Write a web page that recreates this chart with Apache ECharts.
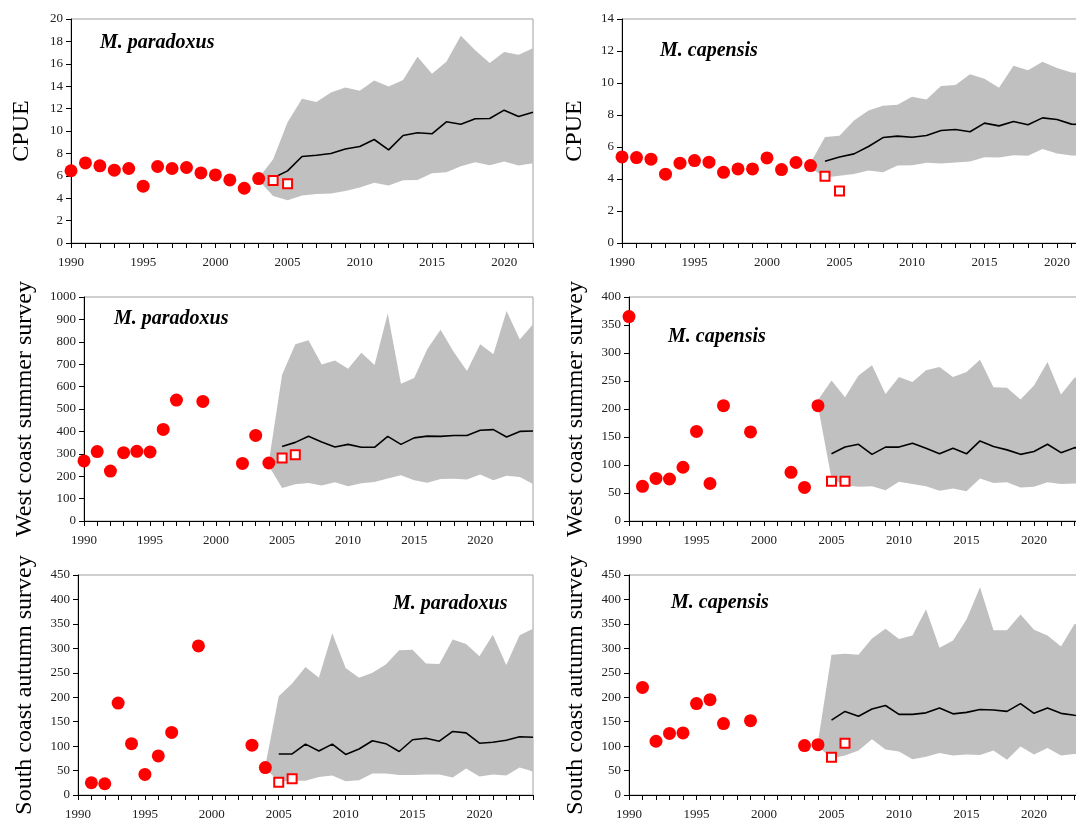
<!DOCTYPE html>
<html>
<head>
<meta charset="utf-8">
<script src="https://cdn.jsdelivr.net/npm/echarts@6/dist/echarts.min.js"></script>
<style>
  html, body { margin: 0; padding: 0; background: #fff; overflow: hidden; }
  /* the original figure is cut off at the right edge, so the canvas is wider than the window */
  #main { width: 1100px; height: 821px; }
</style>
</head>
<body>
<div id="main"></div>
<script>
// ---- CPUE, M. paradoxus ----
var cpueParYears = [1990,1991,1992,1993,1994,1995,1996,1997,1998,1999,2000,2001,2002,2003];
var cpuePar = [6.45,7.15,6.89,6.5,6.65,5.07,6.83,6.65,6.74,6.26,6.08,5.63,4.89,5.75];
var cpueParOpenYears = [2004,2005];
var cpueParOpen = [5.57,5.3];
var cpueParLineYears = [2004,2005,2006,2007,2008,2009,2010,2011,2012,2013,2014,2015,2016,2017,2018,2019,2020,2021,2022];
var cpueParLine = [5.8,6.44,7.72,7.84,7.99,8.4,8.61,9.24,8.32,9.6,9.84,9.75,10.82,10.61,11.09,11.12,11.86,11.3,11.68];
var cpueParBandYears = [2003,2004,2005,2006,2007,2008,2009,2010,2011,2012,2013,2014,2015,2016,2017,2018,2019,2020,2021,2022];
var cpueParHi = [5.8,7.48,10.79,12.88,12.58,13.44,13.89,13.59,14.52,13.98,14.55,16.63,15.11,16.18,18.51,17.2,16.07,17.05,16.81,17.38];
var cpueParLo = [5.6,4.2,3.82,4.23,4.38,4.41,4.65,4.95,5.39,5.13,5.6,5.63,6.23,6.32,6.86,7.21,6.94,7.27,6.91,7.12];

// ---- CPUE, M. capensis ----
var cpueCapYears = [1990,1991,1992,1993,1994,1995,1996,1997,1998,1999,2000,2001,2002,2003];
var cpueCap = [5.38,5.34,5.24,4.3,4.99,5.15,5.05,4.42,4.63,4.63,5.32,4.59,5.03,4.84];
var cpueCapOpenYears = [2004,2005];
var cpueCapOpen = [4.17,3.25];
var cpueCapLineYears = [2004,2005,2006,2007,2008,2009,2010,2011,2012,2013,2014,2015,2016,2017,2018,2019,2020,2021,2022];
var cpueCapLine = [5.11,5.38,5.57,6.03,6.59,6.68,6.61,6.72,7.03,7.09,6.95,7.49,7.32,7.59,7.39,7.82,7.72,7.43,7.4];
var cpueCapBandYears = [2003,2004,2005,2006,2007,2008,2009,2010,2011,2012,2013,2014,2015,2016,2017,2018,2019,2020,2021,2022];
var cpueCapHi = [5.0,6.63,6.7,7.66,8.28,8.58,8.64,9.14,8.97,9.81,9.87,10.54,10.26,9.7,11.08,10.79,11.33,10.93,10.66,10.6];
var cpueCapLo = [4.7,4.09,4.21,4.32,4.53,4.42,4.84,4.86,5.01,4.97,5.03,5.09,5.36,5.34,5.49,5.45,5.88,5.59,5.47,5.45];

// ---- West coast summer survey, M. paradoxus ----
var wcParYears = [1990,1991,1992,1993,1994,1995,1996,1997,1999,2002,2003,2004];
var wcPar = [268,310,223,305,311,308,409,540,534,257,382,259];
var wcParOpenYears = [2005,2006];
var wcParOpen = [281,296];
var wcParLineYears = [2005,2006,2007,2008,2009,2010,2011,2012,2013,2014,2015,2016,2017,2018,2019,2020,2021,2022,2023,2024];
var wcParLine = [333,351,378,353,330,342,329,329,378,342,371,379,378,382,382,405,408,375,400,402];
var wcParBandYears = [2004,2005,2006,2007,2008,2009,2010,2011,2012,2013,2014,2015,2016,2017,2018,2019,2020,2021,2022,2023,2024];
var wcParHi = [265,653,789,807,699,717,680,751,696,926,613,638,768,854,754,670,789,744,938,810,878];
var wcParLo = [245,147,164,170,158,173,155,168,174,190,204,182,171,188,189,185,208,182,202,196,165];

// ---- West coast summer survey, M. capensis ----
var wcCapYears = [1990,1991,1992,1993,1994,1995,1996,1997,1999,2002,2003,2004];
var wcCap = [365,62,76,75,96,160,67,206,159,87,60,206];
var wcCapOpenYears = [2005,2006];
var wcCapOpen = [71,71];
var wcCapLineYears = [2005,2006,2007,2008,2009,2010,2011,2012,2013,2014,2015,2016,2017,2018,2019,2020,2021,2022,2023,2024];
var wcCapLine = [120,132,137,119,132,132,139,130,120,130,120,143,133,127,119,124,137,122,131,130];
var wcCapBandYears = [2004,2005,2006,2007,2008,2009,2010,2011,2012,2013,2014,2015,2016,2017,2018,2019,2020,2021,2022,2023,2024];
var wcCapHi = [216,251,221,260,278,227,257,248,269,275,257,266,288,239,238,217,242,284,226,256,260];
var wcCapLo = [205,76,64,61,62,55,70,66,62,54,58,53,76,68,69,60,61,69,66,67,67];

// ---- South coast autumn survey, M. paradoxus ----
var scParYears = [1991,1992,1993,1994,1995,1996,1997,1999,2003,2004];
var scPar = [25,23,188,105,42,80,128,305,102,56];
var scParOpenYears = [2005,2006];
var scParOpen = [26,33];
var scParLineYears = [2005,2006,2007,2008,2009,2010,2011,2012,2013,2014,2015,2016,2017,2018,2019,2020,2021,2022,2023,2024];
var scParLine = [84,84,104,90,104,83,94,111,105,89,113,116,110,130,127,106,108,112,119,118];
var scParBandYears = [2004,2005,2006,2007,2008,2009,2010,2011,2012,2013,2014,2015,2016,2017,2018,2019,2020,2021,2022,2023,2024];
var scParHi = [60,202,228,262,240,331,260,240,250,267,296,297,269,268,318,309,284,328,266,327,340];
var scParLo = [54,28,29,29,37,40,28,30,44,44,41,41,42,42,36,54,38,42,40,56,48];

// ---- South coast autumn survey, M. capensis ----
var scCapYears = [1991,1992,1993,1994,1995,1996,1997,1999,2003,2004];
var scCap = [220,110,126,127,187,195,146,152,101,103];
var scCapOpenYears = [2005,2006];
var scCapOpen = [77,106];
var scCapLineYears = [2005,2006,2007,2008,2009,2010,2011,2012,2013,2014,2015,2016,2017,2018,2019,2020,2021,2022,2023,2024];
var scCapLine = [153,171,161,176,183,165,165,168,178,166,169,175,174,171,187,167,178,167,163,160];
var scCapBandYears = [2004,2005,2006,2007,2008,2009,2010,2011,2012,2013,2014,2015,2016,2017,2018,2019,2020,2021,2022,2023,2024];
var scCapHi = [109,287,289,287,320,340,319,326,380,301,316,359,425,337,337,369,338,326,304,350,345];
var scCapLo = [99,75,81,91,114,93,89,73,78,86,81,83,82,91,72,99,83,96,81,84,84];

var SERIF = "'Liberation Serif', 'Times New Roman', serif";

// canvas is 1100 wide, right margins are measured from that
var panels = [
  { grid: {left: 71, right: 567, top: 19, bottom: 578}, xMax: 2022, yMax: 20, yInt: 2, name: 'CPUE', gap: 37,
    title: 'M. paradoxus', tl: 95, tt: 28,
    dy: cpueParYears, dv: cpuePar, oy: cpueParOpenYears, ov: cpueParOpen, ly: cpueParLineYears, lv: cpueParLine,
    by: cpueParBandYears, bh: cpueParHi, bl: cpueParLo },
  { grid: {left: 622, right: 14, top: 19, bottom: 578}, xMax: 2022, yMax: 14, yInt: 2, name: 'CPUE', gap: 35,
    title: 'M. capensis', tl: 655, tt: 36,
    dy: cpueCapYears, dv: cpueCap, oy: cpueCapOpenYears, ov: cpueCapOpen, ly: cpueCapLineYears, lv: cpueCapLine,
    by: cpueCapBandYears, bh: cpueCapHi, bl: cpueCapLo },
  { grid: {left: 84, right: 567, top: 297, bottom: 300}, xMax: 2024, yMax: 1000, yInt: 100, name: 'West coast summer survey', gap: 47,
    title: 'M. paradoxus', tl: 109, tt: 304,
    dy: wcParYears, dv: wcPar, oy: wcParOpenYears, ov: wcParOpen, ly: wcParLineYears, lv: wcParLine,
    by: wcParBandYears, bh: wcParHi, bl: wcParLo },
  { grid: {left: 629, right: 12, top: 297, bottom: 300}, xMax: 2024, yMax: 400, yInt: 50, name: 'West coast summer survey', gap: 41,
    title: 'M. capensis', tl: 663, tt: 322,
    dy: wcCapYears, dv: wcCap, oy: wcCapOpenYears, ov: wcCapOpen, ly: wcCapLineYears, lv: wcCapLine,
    by: wcCapBandYears, bh: wcCapHi, bl: wcCapLo },
  { grid: {left: 78, right: 567, top: 575, bottom: 23}, xMax: 2024, yMax: 450, yInt: 50, name: 'South coast autumn survey', gap: 41,
    title: 'M. paradoxus', tl: 388, tt: 589,
    dy: scParYears, dv: scPar, oy: scParOpenYears, ov: scParOpen, ly: scParLineYears, lv: scParLine,
    by: scParBandYears, bh: scParHi, bl: scParLo },
  { grid: {left: 629, right: 12, top: 575, bottom: 23}, xMax: 2024, yMax: 450, yInt: 50, name: 'South coast autumn survey', gap: 41,
    title: 'M. capensis', tl: 666, tt: 588,
    dy: scCapYears, dv: scCap, oy: scCapOpenYears, ov: scCapOpen, ly: scCapLineYears, lv: scCapLine,
    by: scCapBandYears, bh: scCapHi, bl: scCapLo }
];

function pairs(xs, ys) {
  return xs.map(function (x, i) { return [x, ys[i]]; });
}

var grids = [], xAxes = [], yAxes = [], titles = [], series = [];

panels.forEach(function (p, i) {
  grids.push({ left: p.grid.left, right: p.grid.right, top: p.grid.top, bottom: p.grid.bottom,
    show: true, borderColor: '#a0a0a0', borderWidth: 1, containLabel: false });
  xAxes.push({
    type: 'value', gridIndex: i, min: 1990, max: p.xMax, interval: 1,
    axisLine: { onZero: false, lineStyle: { color: '#000', width: 1 } },
    axisTick: { length: 5, lineStyle: { color: '#000' } },
    splitLine: { show: false },
    axisLabel: { margin: 13, fontFamily: SERIF, fontSize: 13, color: '#222',
      formatter: function (v) { return v % 5 === 0 ? String(v) : ''; } }
  });
  yAxes.push({
    type: 'value', gridIndex: i, min: 0, max: p.yMax, interval: p.yInt,
    axisLine: { show: true, lineStyle: { color: '#000', width: 1 } },
    axisTick: { show: true, length: 5, lineStyle: { color: '#000' } },
    splitLine: { show: false },
    axisLabel: { margin: 8, fontFamily: SERIF, fontSize: 13, color: '#222',
      formatter: function (v) { return String(v); } },
    name: p.name, nameLocation: 'middle', nameGap: p.gap,
    nameTextStyle: { fontFamily: SERIF, fontSize: 24, color: '#000' }
  });
  titles.push({ text: p.title, left: p.tl, top: p.tt,
    textStyle: { fontFamily: SERIF, fontSize: 20, fontStyle: 'italic', fontWeight: 'bold', color: '#000' } });

  // grey band: one polygon through the axis scales
  var bandData = p.by.map(function (y, k) { return [y, p.bl[k], p.bh[k]]; });
  series.push({
    type: 'custom', xAxisIndex: i, yAxisIndex: i, z: 1, silent: true,
    data: bandData,
    encode: { x: 0, y: [1, 2] },
    renderItem: function (params, api) {
      if (params.dataIndex !== 0) return null;
      var top = bandData.map(function (d) { return api.coord([d[0], d[2]]); });
      var bot = bandData.map(function (d) { return api.coord([d[0], d[1]]); }).reverse();
      return { type: 'polygon', shape: { points: top.concat(bot) }, style: { fill: '#c0c0c0', stroke: null } };
    }
  });
  series.push({
    type: 'line', xAxisIndex: i, yAxisIndex: i, z: 3, data: pairs(p.ly, p.lv),
    showSymbol: false, symbol: 'none', lineStyle: { color: '#000', width: 1.6 }, silent: true
  });
  series.push({
    type: 'scatter', xAxisIndex: i, yAxisIndex: i, z: 4, data: pairs(p.dy, p.dv),
    symbol: 'circle', symbolSize: 13, itemStyle: { color: '#ff0000', opacity: 1 }
  });
  series.push({
    type: 'scatter', xAxisIndex: i, yAxisIndex: i, z: 5, data: pairs(p.oy, p.ov),
    symbol: 'rect', symbolSize: 9,
    itemStyle: { color: '#ffffff', borderColor: '#ff0000', borderWidth: 2, opacity: 1 }
  });
});

var chart = echarts.init(document.getElementById('main'));
chart.setOption({
  animation: false,
  backgroundColor: '#fff',
  title: titles,
  grid: grids,
  xAxis: xAxes,
  yAxis: yAxes,
  series: series
});
</script>
</body>
</html>
